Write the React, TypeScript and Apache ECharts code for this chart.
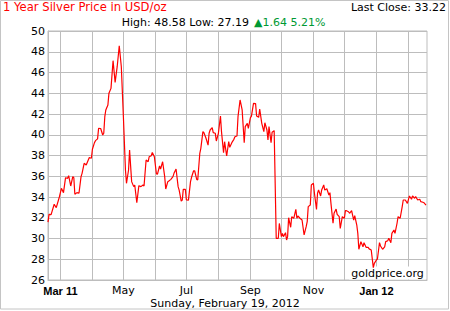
import React, { useEffect, useRef } from 'react';
import * as echarts from 'echarts';

// ---- data ----
const START_DATE = '2011-02-17';
const DAY_COUNT = 368; // Feb 17 2011 .. Feb 19 2012

// [day offset from START_DATE, price USD/oz]
const silverCloses: [number, number][] = [
  [0, 31.58], [1, 32.33], [3, 32.3], [6, 33.3], [8, 32.97], [11, 34.0], [13, 34.84], [15, 34.42], [17, 35.86], [19, 35.8],
  [20, 36.05], [22, 35.06], [24, 35.96], [25, 35.86], [26, 34.26], [28, 34.42], [30, 34.36], [32, 35.96], [33, 36.28], [35, 37.25],
  [37, 37.08], [39, 37.57], [40, 37.8], [42, 37.73], [43, 38.6], [45, 39.24], [46, 39.43], [48, 39.6], [49, 40.62], [51, 40.6],
  [53, 39.98], [54, 40.14], [55, 41.74], [56, 42.39], [58, 42.87], [59, 43.99], [61, 44.47], [63, 47.14], [65, 45.05], [67, 46.56],
  [69, 48.58], [71, 46.56], [73, 41.74], [75, 36.6], [76, 35.32], [78, 36.6], [79, 38.53], [81, 35.48], [83, 35.0], [84, 35.16],
  [86, 33.45], [88, 35.09], [90, 35.0], [92, 35.16], [93, 35.06], [95, 37.57], [97, 37.4], [98, 37.88], [100, 37.98], [101, 38.3],
  [103, 37.88], [105, 36.22], [106, 36.2], [108, 36.99], [109, 36.7], [111, 37.4], [113, 35.96], [114, 34.77], [116, 35.48], [117, 35.54],
  [119, 35.7], [121, 35.96], [122, 36.28], [124, 36.7], [126, 35.0], [127, 34.67], [129, 33.61], [130, 33.7], [131, 34.74], [133, 34.74],
  [134, 33.71], [136, 33.7], [138, 35.48], [139, 35.9], [141, 36.53], [142, 36.53], [144, 35.7], [145, 35.64], [147, 38.21], [148, 38.69],
  [150, 40.3], [151, 40.2], [153, 39.66], [155, 39.0], [156, 40.14], [157, 40.46], [159, 40.68], [160, 40.2], [162, 40.14], [163, 39.4],
  [165, 40.14], [167, 41.8], [168, 40.3], [170, 38.27], [171, 39.33], [173, 37.95], [175, 39.33], [176, 38.79], [178, 39.24], [180, 39.56],
  [181, 39.81], [183, 39.88], [184, 41.74], [186, 43.35], [188, 42.39], [190, 39.24], [191, 40.78], [193, 41.1], [194, 40.62], [196, 41.64],
  [197, 41.8], [199, 43.03], [201, 43.0], [202, 41.8], [204, 41.68], [205, 42.48], [207, 41.1], [209, 40.3], [210, 41.16], [212, 40.46],
  [213, 39.49], [214, 40.78], [216, 39.24], [217, 40.24], [219, 40.4], [221, 30.02], [223, 30.02], [224, 31.45], [226, 30.18], [227, 30.5],
  [228, 30.18], [230, 30.56], [231, 29.86], [232, 30.18], [233, 32.0], [235, 31.08], [236, 32.1], [238, 31.95], [240, 32.81], [241, 31.95],
  [242, 32.17], [244, 31.95], [246, 31.78], [248, 30.34], [250, 31.14], [251, 31.62], [252, 33.07], [254, 33.23], [255, 35.16], [257, 35.32],
  [258, 34.36], [260, 32.81], [261, 34.36], [262, 34.67], [264, 34.1], [265, 34.67], [267, 35.16], [268, 34.67], [270, 34.8], [272, 34.19],
  [273, 34.42], [274, 33.39], [276, 31.47], [277, 32.43], [279, 32.84], [280, 32.33], [282, 32.1], [283, 30.98], [285, 32.1], [287, 31.95],
  [288, 32.68], [289, 32.68], [291, 32.58], [292, 32.43], [294, 32.68], [296, 31.78], [297, 32.2], [299, 31.3], [300, 30.5], [301, 28.96],
  [303, 29.7], [305, 29.2], [306, 29.6], [308, 29.15], [310, 29.15], [311, 29.0], [313, 28.89], [315, 27.19], [316, 27.6], [318, 27.93],
  [319, 28.02], [321, 29.6], [322, 29.28], [324, 28.96], [326, 29.2], [327, 29.7], [329, 29.79], [330, 30.02], [332, 29.6], [333, 30.5],
  [335, 30.82], [336, 30.5], [338, 31.47], [339, 32.1], [341, 31.95], [343, 33.07], [344, 33.71], [346, 33.71], [348, 33.39], [350, 34.1],
  [352, 33.78], [353, 34.1], [355, 33.88], [356, 34.03], [358, 33.71], [360, 33.78], [361, 33.55], [363, 33.49], [364, 33.45], [366, 33.22],
];

const Y_MIN = 26;
const Y_MAX = 50;
const Y_STEP = 2;

const monthLabelDates = ['2011-03-01', '2011-05-01', '2011-07-01', '2011-09-01', '2011-11-01', '2012-01-01'];
const monthLabelTexts = ['Mar 11', 'May', 'Jul', 'Sep', 'Nov', 'Jan 12'];
const boldMonthLabels = ['Mar 11', 'Jan 12'];

const titleText = '1 Year Silver Price in USD/oz';
const lastCloseText = 'Last Close: 33.22';
const highLowText = 'High: 48.58 Low: 27.19';
const changeText = '▲1.64 5.21%';
const dateText = 'Sunday, February 19, 2012';
const watermarkText = 'goldprice.org';

function buildCategories(): string[] {
  const [y, m, d] = START_DATE.split('-').map(Number);
  const base = Date.UTC(y, m - 1, d);
  const out: string[] = [];
  for (let i = 0; i < DAY_COUNT; i++) {
    out.push(new Date(base + i * 86400000).toISOString().slice(0, 10));
  }
  return out;
}

const FONT = 'DejaVu Sans';
const GRID_COLOR = '#bdbdbd';

function textEl(text: string, x: number, y: number, align: string, fill: string, fontSize = 11, extra: any = {}) {
  return {
    type: 'text',
    x,
    y,
    silent: true,
    z: 10,
    style: {
      text,
      fill,
      fontSize,
      fontFamily: FONT,
      align,
      verticalAlign: 'middle',
      textAlign: align,
      textVerticalAlign: 'middle',
      ...extra,
    },
  };
}

export default function App() {
  const ref = useRef<HTMLDivElement>(null);

  useEffect(() => {
    document.body.style.margin = '0';
    if (!ref.current) return;
    const chart = echarts.init(ref.current, null, { renderer: 'svg' });
    const categories = buildCategories();

    chart.setOption({
      animation: false,
      backgroundColor: '#ffffff',
      grid: {
        left: 48,
        right: 23,
        top: 31,
        bottom: 31,
        show: true,
        borderColor: GRID_COLOR,
        borderWidth: 1,
        backgroundColor: '#ffffff',
      },
      xAxis: {
        type: 'category',
        data: categories,
        boundaryGap: false,
        axisLine: { show: true, lineStyle: { color: GRID_COLOR, width: 1 } },
        axisTick: { show: false },
        splitLine: {
          show: true,
          interval: (_i: number, v: string) => v.endsWith('-01'),
          lineStyle: { color: GRID_COLOR, width: 1 },
        },
        axisLabel: {
          interval: (_i: number, v: string) => monthLabelDates.includes(v),
          formatter: (v: string) => {
            const k = monthLabelDates.indexOf(v);
            if (k < 0) return '';
            const t = monthLabelTexts[k];
            return boldMonthLabels.includes(t) ? `{b|${t}}` : t;
          },
          margin: 5,
          color: '#000',
          fontFamily: FONT,
          fontSize: 11,
          rich: {
            b: { fontFamily: 'Liberation Sans', fontWeight: 'bold', fontSize: 11, color: '#000' },
          },
        },
      },
      yAxis: {
        type: 'value',
        min: Y_MIN,
        max: Y_MAX,
        interval: Y_STEP,
        axisLine: { show: true, lineStyle: { color: GRID_COLOR, width: 1 } },
        axisTick: { show: false },
        splitLine: { show: true, lineStyle: { color: GRID_COLOR, width: 1 } },
        axisLabel: { margin: 3, color: '#000', fontFamily: FONT, fontSize: 11 },
      },
      series: [
        {
          type: 'line',
          data: silverCloses.map(([d, p]) => [categories[d], p]),
          symbol: 'none',
          showSymbol: false,
          lineStyle: { color: '#ff0000', width: 1.2 },
          z: 5,
        },
      ],
      graphic: [
        {
          type: 'rect',
          silent: true,
          z: 10,
          shape: { x: 0.5, y: 0.5, width: 448, height: 308.5 },
          style: { fill: 'none', stroke: '#c4c4c4', lineWidth: 1 },
        },
        textEl(titleText, 3, 7.4, 'left', '#ff0000', 11.6),
        textEl(lastCloseText, 446, 7.4, 'right', '#000000'),
        textEl(highLowText, 249, 22.8, 'right', '#000000'),
        textEl(changeText, 254, 22.8, 'left', '#009933'),
        textEl(dateText, 225, 303, 'center', '#000000'),
        {
          ...textEl(watermarkText, 387.5, 273, 'center', '#000000', 11, {
            backgroundColor: '#ffffff',
            padding: [1, 2, 1, 2],
          }),
          z: 3,
        },
      ],
    });

    return () => {
      chart.dispose();
    };
  }, []);

  return <div ref={ref} style={{ width: 450, height: 311 }} />;
}
